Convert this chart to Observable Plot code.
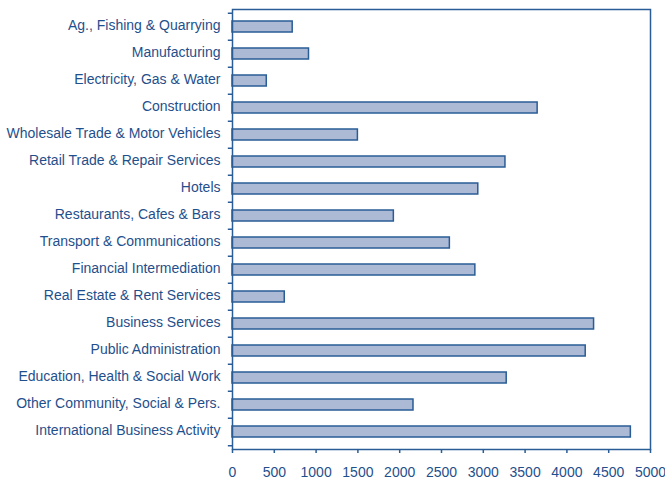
<!DOCTYPE html>
<html>
<head>
<meta charset="utf-8">
<script src="https://cdn.jsdelivr.net/npm/d3@7"></script>
<script src="https://cdn.jsdelivr.net/npm/@observablehq/plot@0.6"></script>
<style>
  html, body { margin: 0; padding: 0; background: #fff; overflow: hidden; }
  #chart svg { display: block; }
</style>
</head>
<body>
<div id="chart"></div>
<script>
const categories = [
  "Ag., Fishing & Quarrying",
  "Manufacturing",
  "Electricity, Gas & Water",
  "Construction",
  "Wholesale Trade & Motor Vehicles",
  "Retail Trade & Repair Services",
  "Hotels",
  "Restaurants, Cafes & Bars",
  "Transport & Communications",
  "Financial Intermediation",
  "Real Estate & Rent Services",
  "Business Services",
  "Public Administration",
  "Education, Health & Social Work",
  "Other Community, Social & Pers.",
  "International Business Activity"
];
const values = [720, 915, 410, 3650, 1500, 3265, 2940, 1930, 2600, 2905, 625, 4325, 4225, 3280, 2165, 4765];
const xTicks = [0, 500, 1000, 1500, 2000, 2500, 3000, 3500, 4000, 4500, 5000];

const data = categories.map((c, i) => ({category: c, value: values[i]}));

const W = 665, H = 479, mTop = 9, mBottom = 30, mLeft = 232, mRight = 15;
const step = (H - mTop - mBottom) / categories.length;
const dark = "#2a5c96";
const textColor = "#1f4f8c";

const chart = Plot.plot({
  width: W,
  height: H,
  marginTop: mTop,
  marginBottom: mBottom,
  marginLeft: mLeft,
  marginRight: mRight,
  style: {fontFamily: "'Liberation Sans', Arial, sans-serif", fontSize: "14px", color: textColor, background: "#fff", overflow: "hidden"},
  x: {domain: [0, 5000], ticks: xTicks, tickFormat: d => String(d)},
  y: {domain: categories, paddingInner: 0.58, paddingOuter: 0.29},
  marks: [
    Plot.barX(data, {y: "category", x: "value", fill: "#adbad6", stroke: dark, strokeWidth: 1.5}),
    Plot.frame({stroke: dark, strokeWidth: 1.5}),
    Plot.axisX({ticks: xTicks, tickSize: 4, tickPadding: 14, stroke: dark, strokeWidth: 1.5, fill: textColor, tickFormat: d => String(d), label: null}),
    Plot.axisY({tickSize: 0, tickPadding: 12, fill: textColor, label: null, fontSize: 14, dy: -1}),
    Plot.ruleY(categories, {y: d => d, dy: -step / 2, x1: -50, x2: 0, stroke: dark, strokeWidth: 1.5, clip: false}),
    Plot.ruleY(categories.slice(-1), {y: d => d, dy: step / 2, x1: -50, x2: 0, stroke: dark, strokeWidth: 1.5, clip: false})
  ]
});
document.getElementById("chart").appendChild(chart);
</script>
</body>
</html>
